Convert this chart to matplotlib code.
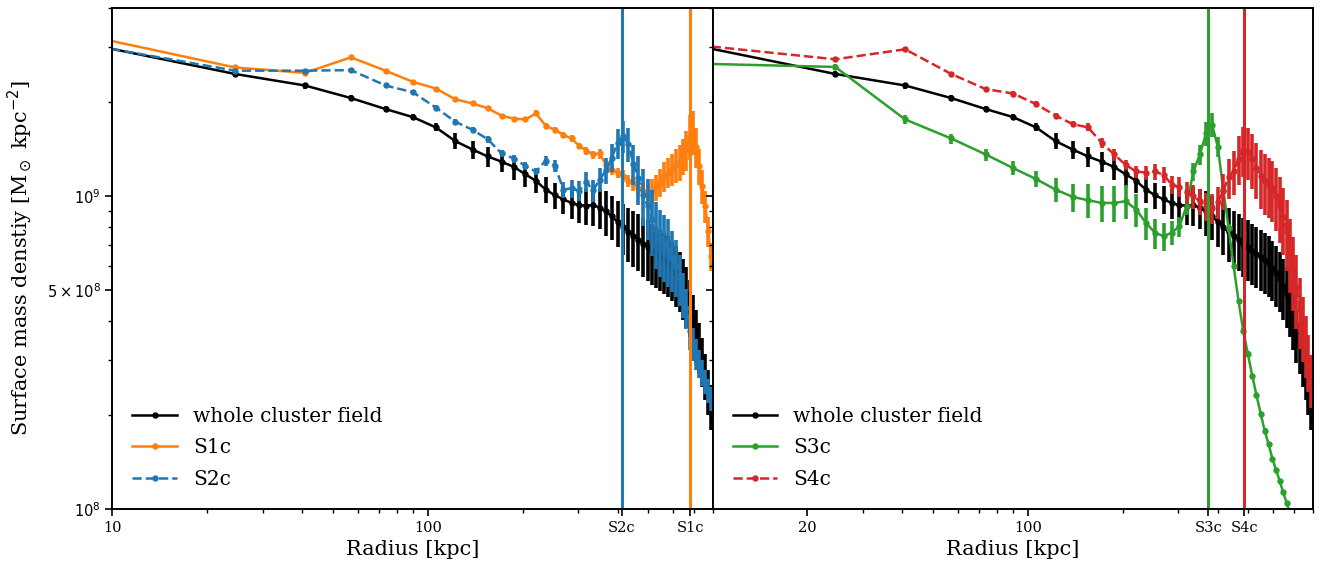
import numpy as np
import matplotlib
matplotlib.use("Agg")
import matplotlib.pyplot as plt
from matplotlib.ticker import LogLocator, NullFormatter, FixedLocator

plt.rcParams['font.family'] = 'serif'
plt.rcParams['font.serif'] = ['DejaVu Serif']

# --- data (surface density in units of 1e9 Msun/kpc^2) ---
radius = [8.2, 24.5, 40.8, 57.1, 73.5, 89.8, 106.1, 122.4, 138.8, 155.1,
          171.4, 187.8, 204.1, 220.4, 236.7, 253.1, 269.4, 285.7, 302.0, 318.4,
          334.7, 351.0, 367.3, 383.7, 400.0, 416.3, 432.7, 449.0, 465.3, 481.6,
          498.0, 514.3, 530.6, 546.9, 563.3, 579.6, 595.9, 612.2, 628.6, 644.9,
          661.2, 677.6, 693.9, 710.2, 726.5, 742.9, 759.2, 775.5, 791.8]

whole = [3.08, 2.46, 2.26, 2.06, 1.90, 1.79, 1.66, 1.50, 1.41, 1.34,
         1.29, 1.24, 1.175, 1.12, 1.05, 1.007, 0.977, 0.952, 0.936, 0.934,
         0.936, 0.920, 0.894, 0.862, 0.828, 0.796, 0.768, 0.746, 0.727, 0.703,
         0.688, 0.668, 0.653, 0.639, 0.626, 0.612, 0.591, 0.569, 0.545, 0.517,
         0.488, 0.447, 0.403, 0.364, 0.331, 0.299, 0.269, 0.239, 0.214]
whole_err = [0.045, 0.054, 0.050, 0.045, 0.042, 0.040, 0.049, 0.088, 0.093, 0.099,
             0.095, 0.109, 0.104, 0.099, 0.100, 0.096, 0.100, 0.105, 0.117, 0.124,
             0.131, 0.135, 0.145, 0.139, 0.140, 0.146, 0.152, 0.154, 0.150, 0.150,
             0.152, 0.147, 0.144, 0.141, 0.138, 0.135, 0.130, 0.126, 0.120, 0.114,
             0.108, 0.092, 0.080, 0.070, 0.061, 0.053, 0.045, 0.039, 0.035]

s1c = [3.27, 2.58, 2.48, 2.78, 2.52, 2.32, 2.21, 2.04, 1.98, 1.91,
       1.81, 1.77, 1.76, 1.84, 1.68, 1.63, 1.57, 1.53, 1.45, 1.40,
       1.36, 1.37, 1.26, 1.21, 1.19, 1.16, 1.12, 1.10, 1.06, 1.04,
       1.01, 1.04, 1.07, 1.11, 1.16, 1.19, 1.22, 1.26, 1.29, 1.35,
       1.41, 1.56, 1.61, 1.44, 1.25, 1.08, 0.93, 0.774, 0.644]
s1c_err = [0.048, 0.038, 0.036, 0.041, 0.037, 0.034, 0.032, 0.030, 0.029, 0.028,
           0.027, 0.026, 0.026, 0.041, 0.037, 0.036, 0.035, 0.034, 0.032, 0.041,
           0.040, 0.050, 0.046, 0.044, 0.044, 0.051, 0.049, 0.057, 0.055, 0.061,
           0.074, 0.092, 0.102, 0.114, 0.128, 0.131, 0.144, 0.158, 0.171, 0.179,
           0.207, 0.252, 0.260, 0.212, 0.165, 0.135, 0.109, 0.085, 0.066]

s2c = [3.06, 2.52, 2.52, 2.53, 2.26, 2.15, 1.92, 1.73, 1.63, 1.52,
       1.37, 1.32, 1.25, 1.20, 1.30, 1.25, 1.05, 1.06, 1.04, 1.11,
       1.045, 1.13, 1.21, 1.33, 1.48, 1.56, 1.47, 1.27, 1.14, 1.01,
       0.929, 0.845, 0.774, 0.730, 0.703, 0.678, 0.635, 0.599, 0.548, 0.488,
       0.440, 0.372, 0.338, 0.314, 0.292, 0.273, 0.256, 0.239, 0.226]
s2c_err = [0.045, 0.037, 0.037, 0.037, 0.033, 0.032, 0.042, 0.038, 0.036, 0.035,
           0.033, 0.039, 0.037, 0.035, 0.048, 0.055, 0.062, 0.070, 0.076, 0.082,
           0.085, 0.100, 0.116, 0.137, 0.163, 0.184, 0.184, 0.187, 0.201, 0.208,
           0.205, 0.199, 0.188, 0.177, 0.171, 0.165, 0.140, 0.123, 0.101, 0.079,
           0.065, 0.049, 0.040, 0.035, 0.030, 0.026, 0.023, 0.021, 0.020]

s3c = [2.66, 2.59, 1.76, 1.53, 1.36, 1.23, 1.135, 1.05, 0.995, 0.971,
       0.952, 0.952, 0.964, 0.907, 0.822, 0.764, 0.746, 0.764, 0.802, 0.929,
       1.20, 1.36, 1.59, 1.69, 1.44, 1.05, 0.793, 0.598, 0.463, 0.372,
       0.314, 0.267, 0.231, 0.202, 0.178, 0.161, 0.145, 0.133, 0.123, 0.113,
       0.1045, 0.097, 0.090, 0.083, 0.077, 0.071, 0.066, 0.061, 0.056]
s3c_err = [0.039, 0.057, 0.052, 0.056, 0.060, 0.063, 0.067, 0.093, 0.102, 0.121,
           0.126, 0.126, 0.120, 0.107, 0.097, 0.084, 0.077, 0.067, 0.059, 0.061,
           0.079, 0.100, 0.140, 0.149, 0.106, 0.046, 0.023, 0.013, 0.008, 0.006,
           0.005, 0.004, 0.004, 0.003, 0.003, 0.003, 0.002, 0.002, 0.002, 0.002,
           0.002, 0.002, 0.002, 0.001, 0.001, 0.001, 0.001, 0.001, 0.001]

s4c = [3.07, 2.74, 2.95, 2.46, 2.20, 2.13, 1.97, 1.81, 1.70, 1.66,
       1.48, 1.36, 1.26, 1.20, 1.19, 1.20, 1.17, 1.09, 1.07, 1.03,
       1.00, 0.964, 0.929, 0.919, 0.957, 1.04, 1.15, 1.20, 1.32, 1.41,
       1.39, 1.32, 1.23, 1.16, 1.12, 1.09, 1.06, 1.00, 0.929, 0.857,
       0.774, 0.668, 0.586, 0.513, 0.437, 0.386, 0.338, 0.298, 0.261]
s4c_err = [0.045, 0.040, 0.043, 0.036, 0.032, 0.047, 0.043, 0.040, 0.038, 0.049,
           0.054, 0.060, 0.046, 0.053, 0.061, 0.071, 0.069, 0.072, 0.079, 0.083,
           0.088, 0.092, 0.096, 0.101, 0.113, 0.138, 0.169, 0.194, 0.233, 0.259,
           0.266, 0.262, 0.253, 0.247, 0.247, 0.240, 0.234, 0.228, 0.219, 0.208,
           0.199, 0.177, 0.155, 0.136, 0.112, 0.091, 0.075, 0.061, 0.050]

# radii of the substructures (kpc)
r_sub = {'S1c': 681, 'S2c': 413, 'S3c': 373, 'S4c': 485}

C_BLACK = 'black'
C_ORANGE = '#ff7f0e'
C_BLUE = '#1f77b4'
C_GREEN = '#2ca02c'
C_RED = '#d62728'


def profil(ax, y, yerr, color, label, ls='-'):
    y = np.array(y) * 1e9
    yerr = np.array(yerr) * 1e9
    ax.errorbar(radius, y, yerr=yerr, fmt='none', ecolor=color, elinewidth=2.6, capsize=0)
    ax.plot(radius, y, color=color, ls=ls, lw=1.8, marker='o', ms=3.6, label=label)


fig, (ax1, ax2) = plt.subplots(1, 2, figsize=(13.2, 5.65), dpi=100, sharey=True)
fig.subplots_adjust(left=0.0851, right=0.9945, top=0.986, bottom=0.099, wspace=0)

# panneau gauche
profil(ax1, whole, whole_err, C_BLACK, 'whole cluster field')
profil(ax1, s1c, s1c_err, C_ORANGE, 'S1c')
profil(ax1, s2c, s2c_err, C_BLUE, 'S2c', ls='--')
ax1.axvline(r_sub['S2c'], color=C_BLUE, lw=2.2)
ax1.axvline(r_sub['S1c'], color=C_ORANGE, lw=2.2)

# panneau droit
profil(ax2, whole, whole_err, C_BLACK, 'whole cluster field')
profil(ax2, s3c, s3c_err, C_GREEN, 'S3c')
profil(ax2, s4c, s4c_err, C_RED, 'S4c', ls='--')
ax2.axvline(r_sub['S3c'], color=C_GREEN, lw=2.2)
ax2.axvline(r_sub['S4c'], color=C_RED, lw=2.2)

for ax in (ax1, ax2):
    ax.set_xscale('log')
    ax.set_yscale('log')
    ax.set_xlim(10, 800)
    ax.xaxis.set_minor_locator(LogLocator(base=10, subs=np.arange(2, 10)))
    ax.xaxis.set_minor_formatter(NullFormatter())
    ax.set_xlabel('Radius [kpc]', fontsize=15)
    ax.tick_params(axis='both', which='major', labelsize=10.5, length=5, width=1.2)
    ax.tick_params(axis='both', which='minor', length=3, width=1.0)
    for sp in ax.spines.values():
        sp.set_linewidth(1.4)
    ax.legend(loc='lower left', frameon=False, fontsize=14.5, handlelength=2.2,
              borderaxespad=0.6, labelspacing=0.62)

ax1.set_ylim(1e8, 4e9)
ax1.yaxis.set_major_locator(FixedLocator([1e8, 5e8, 1e9]))
ax1.set_yticklabels([r'$10^{8}$', r'$5\times10^{8}$', r'$10^{9}$'])
ax1.yaxis.set_minor_locator(LogLocator(base=10, subs=np.arange(2, 10)))
ax1.yaxis.set_minor_formatter(NullFormatter())
ax2.tick_params(labelleft=False)

ax1.set_xticks([10, 100, r_sub['S2c'], r_sub['S1c']])
ax1.set_xticklabels(['10', '100', 'S2c', 'S1c'])
ax2.set_xticks([20, 100, r_sub['S3c'], r_sub['S4c']])
ax2.set_xticklabels(['20', '100', 'S3c', 'S4c'])

ax1.set_ylabel(r'Surface mass denstiy [M$_\odot$ kpc$^{-2}$]', fontsize=15, labelpad=9)

fig.savefig('out.png', dpi=100)
